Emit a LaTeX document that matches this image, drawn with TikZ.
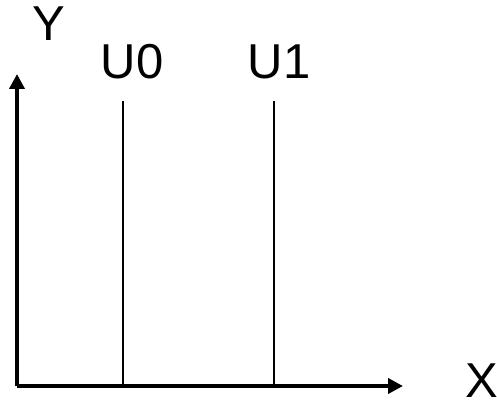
\documentclass[tikz,border=0pt]{standalone}
\usepackage{fontspec}
\setmainfont{Liberation Sans}
\usetikzlibrary{positioning,arrows.meta}
\tikzset{every picture/.style={line width=0.75pt}}
\tikzset{
  axis/.style={line width=4pt, -{Triangle[length=15pt,width=15pt]}},
  level/.style={line width=1.8pt},
  lbl/.style={inner sep=0pt, font=\fontsize{49}{58}\selectfont}
}

\begin{document}
\begin{tikzpicture}[x=1pt,y=-1pt]
\useasboundingbox (0,0) rectangle (497,401);
\coordinate (o) at (17,386);
\coordinate (xe) at (403,386);
\coordinate (ye) at (17,74);
\coordinate (u0t) at (123,101);
\coordinate (u0b) at (123,386);
\coordinate (u1t) at (274,101);
\coordinate (u1b) at (274,386);
\node[lbl] at (49,24) (y) {Y};
\node[lbl] at (482,381) (x) {X};
\node[lbl] at (132,62) (u0) {U0};
\node[lbl] at (279,62) (u1) {U1};
\draw[level] (u0t) -- (u0b);
\draw[level] (u1t) -- (u1b);
\path[axis] (o) edge (xe)
            (o) edge (ye);
\end{tikzpicture}
\end{document}
